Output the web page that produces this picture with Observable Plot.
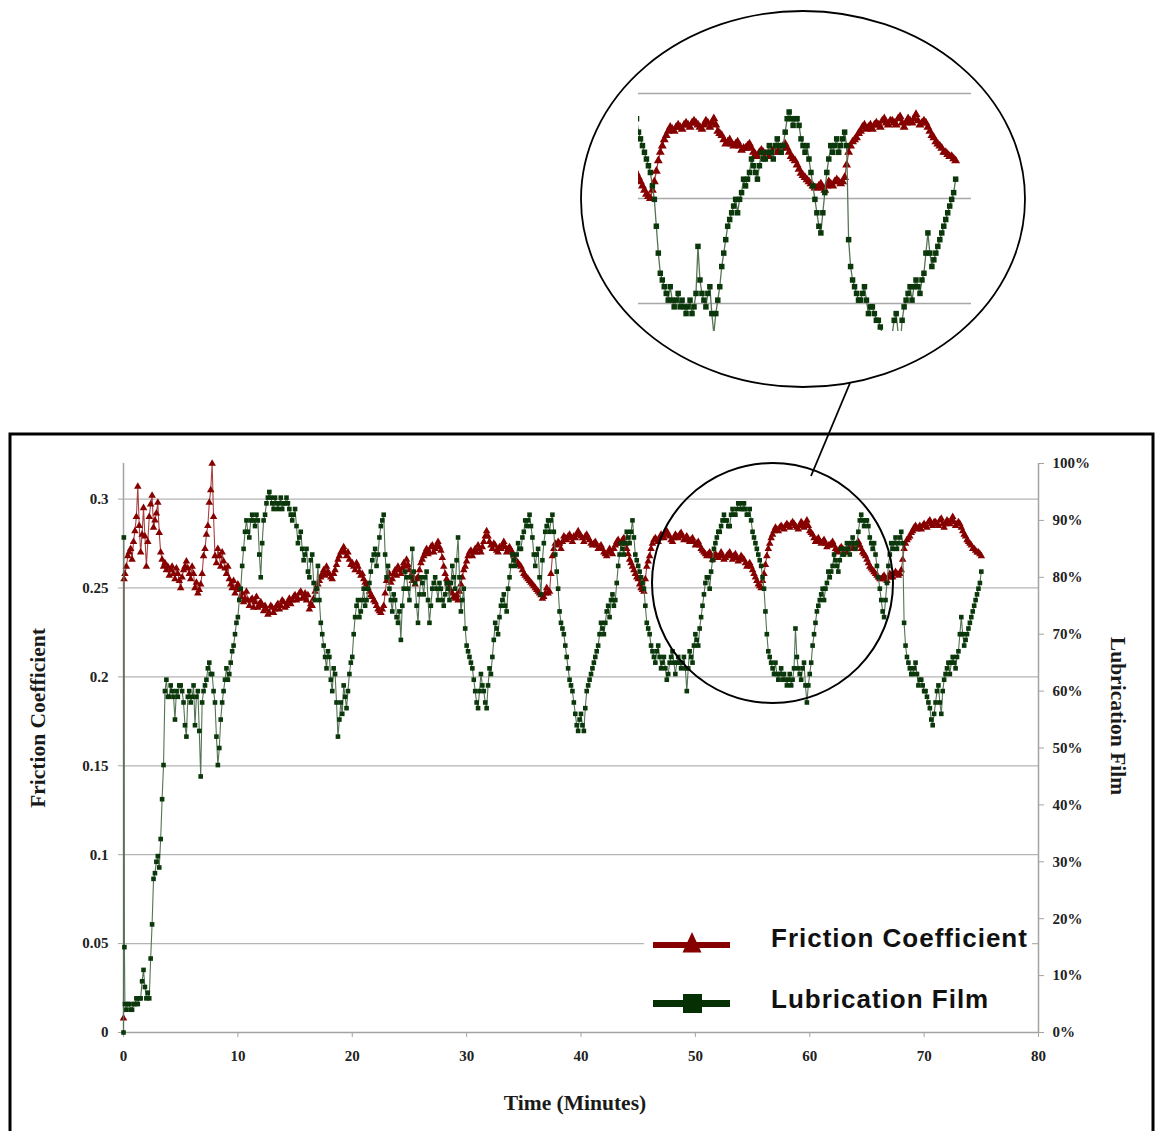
<!DOCTYPE html>
<html><head><meta charset="utf-8">
<script src="https://cdn.jsdelivr.net/npm/d3@7"></script>
<script src="https://cdn.jsdelivr.net/npm/@observablehq/plot@0.6"></script>
<style>
html,body{margin:0;padding:0;background:#fff;}
#wrap{position:relative;width:1155px;height:1131px;overflow:hidden;background:#fff;}
#wrap > svg{position:absolute;}
</style></head><body><div id="wrap"></div>
<script>
// ---- data ----
const STEP = 0.125; // sampling interval of the regular series, minutes (first value at 0.125, one row = one minute)
const frictionStartT = [0, 0.05];
const frictionStartV = [0.008, 0.255];
const friction = [
 .258,.262,.268,.27,.272,.266,.276,.282,
 .29,.307,.285,.27,.28,.295,.279,.262,
 .276,.29,.297,.302,.284,.288,.292,.298,
 .281,.27,.266,.262,.264,.26,.262,.257,
 .26,.262,.258,.255,.261,.258,.254,.25,
 .256,.26,.262,.265,.261,.258,.255,.262,
 .258,.25,.253,.247,.249,.252,.258,.268,
 .272,.28,.285,.298,.305,.32,.29,.268,
 .264,.272,.268,.262,.27,.265,.261,.258,
 .262,.255,.252,.25,.254,.247,.25,.252,
 .249,.245,.247,.242,.244,.248,.243,.24,
 .243,.244,.239,.242,.245,.239,.241,.242,
 .24,.237,.24,.238,.235,.236,.24,.239,
 .236,.238,.24,.241,.238,.24,.243,.242,
 .239,.24,.242,.244,.241,.243,.245,.246,
 .243,.244,.247,.248,.244,.245,.247,.243,
 .246,.238,.241,.24,.244,.248,.25,.252,
 .254,.256,.258,.26,.257,.262,.259,.258,
 .256,.255,.258,.26,.263,.266,.268,.27,
 .271,.273,.27,.268,.27,.266,.263,.264,
 .262,.26,.264,.262,.259,.257,.258,.255,
 .253,.252,.25,.248,.246,.245,.243,.242,
 .24,.238,.237,.236,.238,.24,.247,.254,
 .256,.258,.253,.255,.258,.26,.257,.262,
 .26,.258,.261,.264,.262,.266,.263,.26,
 .257,.254,.256,.252,.255,.256,.26,.264,
 .266,.268,.27,.272,.269,.27,.273,.274,
 .27,.272,.274,.276,.273,.271,.267,.262,
 .258,.255,.252,.25,.248,.247,.245,.244,
 .246,.243,.248,.252,.256,.26,.262,.265,
 .268,.27,.271,.268,.27,.272,.27,.274,
 .272,.27,.273,.276,.279,.282,.279,.276,
 .274,.272,.275,.274,.271,.27,.273,.272,
 .274,.276,.273,.27,.272,.273,.271,.27,
 .268,.266,.265,.264,.263,.262,.26,.258,
 .257,.256,.255,.254,.253,.252,.251,.25,
 .249,.248,.247,.246,.244,.245,.247,.25,
 .247,.248,.258,.268,.272,.275,.274,.276,
 .275,.272,.276,.279,.278,.277,.279,.28,
 .278,.276,.279,.278,.28,.282,.28,.279,
 .278,.276,.279,.28,.278,.277,.275,.274,
 .275,.276,.274,.272,.273,.274,.272,.27,
 .269,.268,.27,.272,.27,.269,.272,.274,
 .276,.277,.275,.275,.277,.278,.275,.272,
 .269,.266,.264,.262,.26,.258,.256,.255,
 .252,.25,.249,.248,.255,.262,.265,.268,
 .272,.275,.277,.278,.277,.276,.278,.28,
 .279,.278,.28,.282,.28,.279,.277,.276,
 .278,.28,.279,.278,.28,.281,.279,.277,
 .278,.279,.277,.276,.277,.278,.276,.274,
 .275,.276,.274,.272,.271,.27,.269,.268,
 .269,.27,.268,.266,.268,.269,.268,.267,
 .268,.27,.268,.266,.267,.268,.269,.27,
 .268,.266,.268,.269,.267,.265,.266,.268,
 .267,.266,.264,.262,.263,.264,.262,.26,
 .258,.256,.254,.252,.251,.25,.254,.258,
 .263,.268,.272,.275,.278,.28,.282,.284,
 .283,.282,.284,.285,.284,.283,.285,.286,
 .285,.284,.286,.287,.286,.285,.284,.283,
 .285,.287,.286,.284,.286,.288,.285,.282,
 .281,.28,.278,.276,.277,.278,.276,.275,
 .276,.277,.275,.273,.274,.274,.275,.276,
 .274,.272,.271,.27,.272,.273,.272,.271,
 .27,.27,.272,.273,.272,.272,.273,.274,
 .275,.276,.274,.272,.27,.269,.268,.266,
 .264,.262,.261,.26,.259,.258,.257,.256,
 .255,.255,.256,.257,.255,.254,.256,.258,
 .257,.256,.258,.259,.258,.257,.258,.26,
 .266,.272,.275,.277,.278,.279,.281,.282,
 .284,.285,.283,.284,.285,.283,.285,.286,
 .285,.284,.287,.288,.286,.285,.287,.287,
 .286,.285,.288,.289,.286,.284,.286,.288,
 .287,.286,.288,.29,.287,.285,.286,.287,
 .286,.284,.282,.28,.279,.277,.276,.275,
 .274,.272,.272,.271,.27,.27,.269,.268
];
const filmStartT = [0, 0.03, 0.08];
const filmStartV = [0, 87, 15];
const film = [ // percent, one row = one minute
 5,4,5,5,4,4,5,5,
 6,5,6,6,9,11,8,6,
 7,6,13,19,27,28,30,31,
 29,34,41,47,60,62,59,59,
 61,60,59,55,60,59,61,61,
 60,58,54,52,59,60,58,59,
 61,54,59,60,53,45,58,60,
 61,62,64,65,63,63,60,58,
 52,47,50,55,58,60,62,64,
 62,63,65,67,68,70,72,73,
 76,78,82,85,88,90,88,87,
 90,91,90,89,91,90,84,80,
 86,90,91,93,94,95,94,93,
 92,94,93,92,93,94,92,93,
 93,94,93,92,91,90,91,92,
 89,86,87,88,85,83,84,85,
 81,80,83,84,79,76,78,82,
 76,72,70,68,66,64,67,66,
 62,60,64,63,58,52,55,58,
 56,61,59,57,60,63,65,66,
 70,73,75,76,73,74,76,78,
 75,76,78,79,81,83,84,85,
 82,84,87,89,90,91,84,80,
 82,78,76,74,77,76,73,72,
 74,69,75,78,81,80,78,76,
 80,85,81,79,75,72,77,80,
 79,77,80,81,76,72,75,78,
 79,80,78,76,79,78,76,75,
 77,79,78,76,79,82,80,78,
 83,87,80,74,76,78,71,68,
 67,66,65,64,62,60,58,57,
 60,63,61,60,58,57,61,64,
 63,66,69,72,71,70,73,75,
 76,77,75,74,78,80,82,84,
 83,82,84,86,85,85,87,88,
 90,89,90,91,89,87,84,82,
 84,85,80,77,83,86,88,89,
 90,88,90,91,88,84,81,78,
 74,72,71,70,68,66,64,62,
 61,60,58,56,54,53,55,56,
 54,53,57,60,61,62,63,64,
 65,66,67,68,70,72,71,70,
 72,74,75,73,76,77,75,76,
 79,82,84,86,85,84,86,88,
 87,86,88,90,87,84,83,82,
 81,80,79,78,75,72,71,70,
 68,67,66,65,67,68,66,64,
 65,66,64,62,63,65,66,67,
 65,63,65,66,65,64,65,66,
 64,60,64,67,66,65,68,70,
 69,68,71,73,75,77,79,80,
 80,78,81,83,85,86,87,88,
 88,89,90,91,90,90,89,89,
 91,92,91,91,92,93,93,92,
 92,93,92,91,91,92,90,88,
 87,86,85,84,83,82,80,78,
 74,70,67,66,65,64,63,65,
 63,62,63,64,62,63,62,61,
 62,63,61,62,64,71,66,64,
 63,62,64,65,61,58,61,63,
 65,68,70,72,74,75,76,77,
 78,76,78,79,81,80,81,82,
 84,83,82,81,83,85,84,84,
 85,86,85,84,86,87,86,85,
 86,88,90,91,90,89,90,90,
 89,87,86,85,86,84,82,80,
 78,76,74,73,76,79,82,84,
 86,85,86,87,85,86,87,88,
 86,72,68,66,65,64,63,63,
 64,65,63,61,62,62,61,60,
 60,59,58,57,55,54,56,58,
 60,61,58,56,60,62,63,64,
 65,63,65,66,65,64,66,67,
 70,73,70,68,69,70,71,72,
 73,74,75,76,77,78,79,81
];
const xTicks = [0,10,20,30,40,50,60,70,80];
const leftTicks = [0,0.05,0.1,0.15,0.2,0.25,0.3];
const rightTicks = [0,10,20,30,40,50,60,70,80,90,100]; // percent
const seriesNames = ["Friction Coefficient", "Lubrication Film"];
const axisTitles = {left: "Friction Coefficient", right: "Lubrication Film", bottom: "Time (Minutes)"};
const Y_MAX = 0.32;            // left axis top; right axis 100% at the same height
const insetX = [55, 76];       // zoomed window
const insetY = [0.18667, 0.30381];
const insetGrid = [0.2, 0.25, 0.3];

// ---- build tables ----
const fr = [...frictionStartT.map((t,i)=>({t, v: frictionStartV[i]})), ...friction.map((v,i)=>({t: STEP*(i+1), v}))];
const fm = [...filmStartT.map((t,i)=>({t, p: filmStartV[i]})), ...film.map((p,i)=>({t: STEP*(i+1), p}))];
const toY = p => p/100*Y_MAX;

const RED = "#860000", RED_LINE = "#a84040", GREEN = "#0b380b", GREEN_LINE = "#557455";
const SERIF = "'Liberation Serif','Times New Roman',serif";
const SANS = "'Liberation Sans',Arial,sans-serif";
const titleStyle = {text: d => d, fontSize: 21.5, fontWeight: "bold", fontFamily: SERIF, fill: "#1a1a1a", textAnchor: "middle", lineAnchor: "middle"};

const wrap = document.getElementById("wrap");

const main = Plot.plot({
  width: 1155, height: 1131,
  marginLeft: 123, marginRight: 117, marginTop: 463, marginBottom: 99,
  x: {domain: [0, 80]},
  y: {domain: [0, Y_MAX]},
  style: {fontFamily: SERIF, fontWeight: "bold", fontSize: "15px", background: "#fff", color: "#222"},
  marks: [
    Plot.ruleY(leftTicks.filter(d => d > 0), {stroke: "#b4b4b4", strokeWidth: 1.3}),
    Plot.ruleX([0, 80], {stroke: "#a3a3a3", strokeWidth: 1.5}),
    Plot.ruleY([0], {stroke: "#a3a3a3", strokeWidth: 1.5}),
    Plot.axisX({ticks: xTicks, tickSize: 5, tickPadding: 13, stroke: "#a3a3a3", fill: "#222", tickFormat: d => String(d), label: null}),
    Plot.axisY({anchor: "left", ticks: leftTicks, tickSize: 5, tickPadding: 10, stroke: "#a3a3a3", fill: "#222", tickFormat: d => String(+d.toFixed(2)), label: null}),
    Plot.axisY({anchor: "right", ticks: rightTicks.map(toY), tickSize: 5, tickPadding: 9, stroke: "#a3a3a3", fill: "#222", tickFormat: d => Math.round(d/Y_MAX*100) + "%", label: null}),
    Plot.line(fr, {x: "t", y: "v", stroke: RED_LINE, strokeWidth: 1.1}),
    Plot.dot(fr, {x: "t", y: "v", symbol: "triangle", r: 2.8, fill: RED, stroke: null}),
    Plot.line(fm, {x: "t", y: d => toY(d.p), stroke: GREEN_LINE, strokeWidth: 1.1}),
    Plot.dot(fm, {x: "t", y: d => toY(d.p), symbol: "square", r: 2.6, fill: GREEN, stroke: null}),
    Plot.text([axisTitles.left], {...titleStyle, frameAnchor: "left", dx: -85, dy: -30, rotate: -90}),
    Plot.text([axisTitles.right], {...titleStyle, frameAnchor: "right", dx: 79, dy: -32, rotate: 90}),
    Plot.text([axisTitles.bottom], {...titleStyle, frameAnchor: "bottom", dx: -6, dy: 71})
  ]
});
main.style.left = "0px"; main.style.top = "0px";
wrap.appendChild(main);

// ---- zoomed inset ----
const inset = Plot.plot({
  width: 333, height: 246, margin: 0,
  x: {domain: insetX, axis: null},
  y: {domain: insetY, axis: null},
  style: {background: "transparent"},
  marks: [
    Plot.ruleY(insetGrid, {stroke: "#a8a8a8", strokeWidth: 1.5}),
    Plot.line(fr, {x: "t", y: "v", stroke: RED_LINE, strokeWidth: 1.3, clip: true}),
    Plot.dot(fr, {x: "t", y: "v", symbol: "triangle", r: 3.3, fill: RED, stroke: null, clip: true}),
    Plot.line(fm, {x: "t", y: d => toY(d.p), stroke: GREEN_LINE, strokeWidth: 1.3, clip: true}),
    Plot.dot(fm, {x: "t", y: d => toY(d.p), symbol: "square", r: 3.1, fill: GREEN, stroke: null, clip: true})
  ]
});
inset.style.left = "638px"; inset.style.top = "85px";
wrap.appendChild(inset);

// ---- annotations: frame, ellipses, connector, legend ----
const ov = d3.create("svg").attr("width", 1155).attr("height", 1131)
  .style("left", "0px").style("top", "0px").style("pointer-events", "none");
ov.append("rect").attr("x", 10).attr("y", 434).attr("width", 1143).attr("height", 800)
  .attr("fill", "none").attr("stroke", "#000").attr("stroke-width", 3);
ov.append("ellipse").attr("cx", 772.5).attr("cy", 583).attr("rx", 120.5).attr("ry", 120)
  .attr("fill", "none").attr("stroke", "#000").attr("stroke-width", 2);
ov.append("ellipse").attr("cx", 803).attr("cy", 199).attr("rx", 222).attr("ry", 188)
  .attr("fill", "none").attr("stroke", "#000").attr("stroke-width", 1.8);
ov.append("line").attr("x1", 850).attr("y1", 383).attr("x2", 811).attr("y2", 476)
  .attr("stroke", "#000").attr("stroke-width", 1.8);

const lg = ov.append("g");
lg.append("rect").attr("x", 644).attr("y", 912).attr("width", 388).attr("height", 113).attr("fill", "#fff");
lg.append("line").attr("x1", 653).attr("x2", 730).attr("y1", 945).attr("y2", 945).attr("stroke", RED).attr("stroke-width", 6);
lg.append("path").attr("d", "M692,932 L682.5,952.5 L701.5,952.5 Z").attr("fill", RED);
lg.append("line").attr("x1", 653).attr("x2", 730).attr("y1", 1003.5).attr("y2", 1003.5).attr("stroke", "#043004").attr("stroke-width", 7);
lg.append("rect").attr("x", 683).attr("y", 994).attr("width", 19).attr("height", 19).attr("fill", "#043004");
[[seriesNames[0], 947], [seriesNames[1], 1008]].forEach(([s, y]) => {
  lg.append("text").attr("x", 771).attr("y", y).text(s)
    .attr("font-family", SANS).attr("font-weight", "bold").attr("font-size", 26)
    .attr("letter-spacing", "1px").attr("fill", "#111");
});
wrap.appendChild(ov.node());
</script>
</body></html>
